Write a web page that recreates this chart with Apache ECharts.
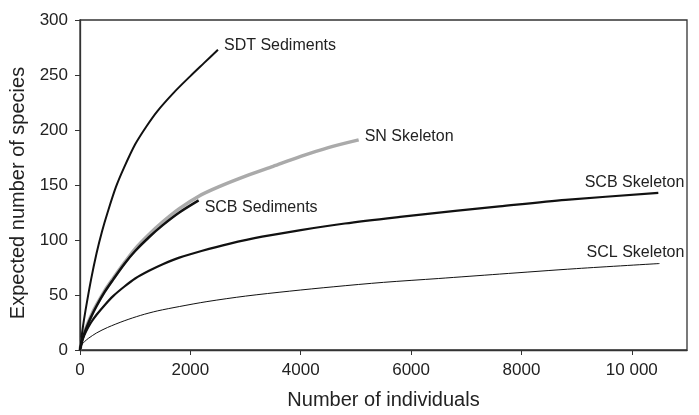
<!DOCTYPE html>
<html>
<head>
<meta charset="utf-8">
<script src="https://cdn.jsdelivr.net/npm/echarts@6/dist/echarts.min.js"></script>
<style>html,body{margin:0;padding:0;background:#fff}#c{width:699px;height:415px}</style>
</head>
<body>
<div id="c"></div>
<script>
// Rarefaction curves: [number of individuals, expected species]
var sdtSediments = [[0,0],[50,20],[100,36],[200,64],[300,88],[400,108],[500,125],[650,148],[800,166],[1000,187],[1200,203],[1400,217],[1700,234],[2000,249],[2250,261],[2500,273]];
var snSkeleton = [[0,0],[50,12],[100,19],[200,31],[300,41],[450,54],[600,65],[800,79],[1000,92],[1250,105],[1500,116.5],[1800,128.5],[2160,140],[2500,148],[3000,158],[3500,167],[4000,176],[4500,184],[5050,191]];
var scbSediments = [[0,0],[50,11],[100,18],[200,30],[300,40],[450,53],[600,64],[800,78],[1000,90],[1250,102.5],[1500,113.5],[1800,125],[2150,136]];
var scbSkeleton = [[0,0],[25,6],[50,10],[100,16],[200,25],[300,32],[450,41],[600,49],[800,57.5],[1000,65],[1250,72],[1500,78],[1800,84],[2200,90],[2700,96.5],[3300,103],[4000,109],[4800,115],[5800,121],[6800,126.5],[7600,130.6],[8800,136.5],[10480,142.8]];
var sclSkeleton = [[0,0],[15,3],[40,5.5],[80,7.5],[150,10.5],[300,15.5],[500,20.5],[800,26.5],[1100,31.5],[1400,35.5],[1800,39.5],[2300,44],[3000,49],[3800,53.5],[4600,57.5],[5500,61.5],[6500,65],[7600,69],[9000,74],[10500,78.6]];
var xTicks = [0,2000,4000,6000,8000,10000];
var yTicks = [0,50,100,150,200,250,300];

var font = "'Liberation Sans', Arial, Helvetica, sans-serif";
var txt = '#222';
function lbl(name, offset, align) {
  return {show: true, formatter: name, color: txt, fontFamily: font, fontSize: 16, offset: offset, align: align || 'left', distance: 0};
}
function line(name, data, color, width, label) {
  return {name: name, type: 'line', data: data, smooth: 0.3, symbol: 'none',
    lineStyle: {color: color, width: width}, endLabel: label};
}
var chart = echarts.init(document.getElementById('c'));
chart.setOption({
  animation: false,
  backgroundColor: '#fff',
  grid: {left: 80, right: 12, top: 20, bottom: 64, show: true, borderColor: '#333', borderWidth: 1.3},
  xAxis: {
    type: 'value', min: xTicks[0], max: 11000, interval: 2000,
    name: 'Number of individuals', nameLocation: 'middle', nameGap: 40,
    nameTextStyle: {color: txt, fontFamily: font, fontSize: 20},
    axisLine: {show: true, lineStyle: {color: '#333', width: 1.3}},
    axisTick: {show: true, length: 5, lineStyle: {color: '#333'}},
    splitLine: {show: false},
    axisLabel: {color: txt, fontFamily: font, fontSize: 17, margin: 12, showMaxLabel: false,
      formatter: function (v) { return xTicks.indexOf(v) < 0 ? '' : (v >= 10000 ? String(v).replace(/(\d+)(\d{3})$/, '$1 $2') : String(v)); }}
  },
  yAxis: {
    type: 'value', min: yTicks[0], max: yTicks[yTicks.length - 1], interval: 50,
    name: 'Expected number of species', nameLocation: 'middle', nameGap: 48,
    nameTextStyle: {color: txt, fontFamily: font, fontSize: 20, padding: [0, 16, 0, 0]},
    axisLine: {show: true, lineStyle: {color: '#333', width: 1.3}},
    axisTick: {show: true, length: 5, lineStyle: {color: '#333'}},
    splitLine: {show: false},
    axisLabel: {color: txt, fontFamily: font, fontSize: 17, margin: 12}
  },
  series: [
    line('SN Skeleton', snSkeleton, '#aaaaaa', 3.5, lbl('SN Skeleton', [6, -3])),
    line('SCB Sediments', scbSediments, '#111', 2.5, lbl('SCB Sediments', [6, 7])),
    line('SDT Sediments', sdtSediments, '#111', 2, lbl('SDT Sediments', [6, -4])),
    line('SCB Skeleton', scbSkeleton, '#111', 2.2, lbl('SCB Skeleton', [26, -10], 'right')),
    line('SCL Skeleton', sclSkeleton, '#111', 1, lbl('SCL Skeleton', [25, -11], 'right'))
  ]
});
</script>
</body>
</html>
